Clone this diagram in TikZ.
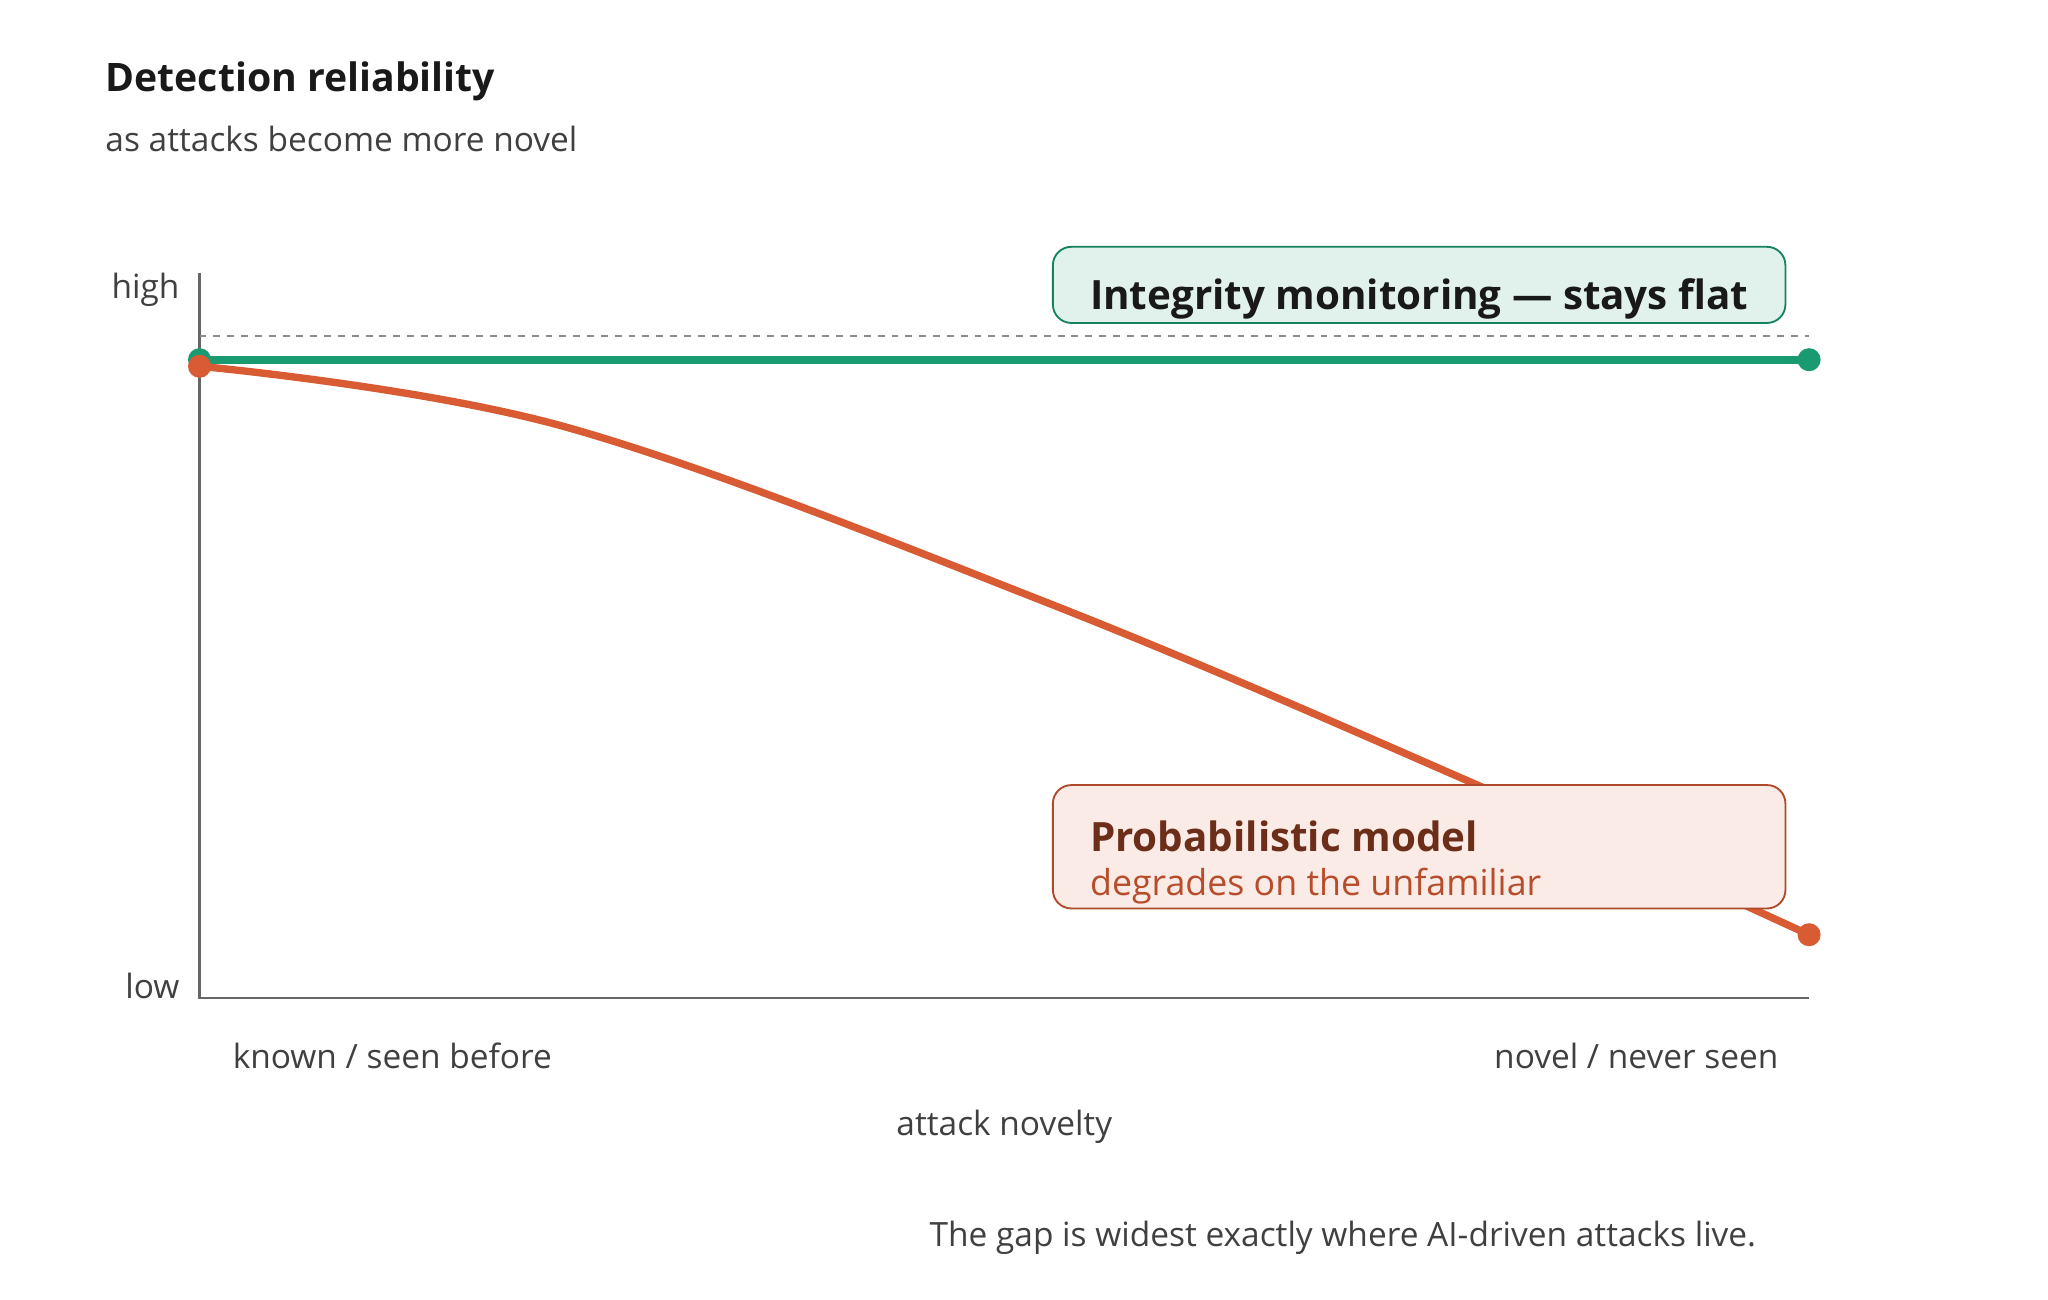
\documentclass[tikz,border=0pt]{standalone}
\usepackage{fontspec}
\setmainfont{Open Sans}
\begin{document}
\begin{tikzpicture}[x=0.02cm,y=-0.02cm,
  txt/.style={inner sep=0pt,text=black!75},
  axis/.style={draw=black!60,line width=1pt},
  dot/.style={circle,inner sep=0pt,minimum size=10pt}]
\definecolor{grn}{HTML}{1A9A70}
\definecolor{red1}{HTML}{D95B33}
\useasboundingbox (0,0) rectangle (1560,990);
\node[txt,anchor=west,text=black!90,font=\fontsize{17}{20}\selectfont\bfseries] (title) at (80,62) {Detection reliability};
\node[txt,anchor=west,font=\fontsize{14.5}{17}\selectfont] (sub) at (80,106) {as attacks become more novel};
\coordinate (o) at (152,760);
\coordinate (top) at (152,208);
\coordinate (xe) at (1378,760);
\draw[axis] (top) -- (o) -- (xe);
\node[txt,anchor=east,font=\fontsize{14.5}{17}\selectfont] (high) at (137,221) {high};
\node[txt,anchor=east,font=\fontsize{14.5}{17}\selectfont] (low) at (137,751) {low};
\coordinate (d1) at (152,256); \coordinate (d2) at (1378,256);
\draw[black!45,dashed,line width=0.6pt] (d1) -- (d2);
\node[dot,fill=grn] (g1) at (152,274) {};
\node[dot,fill=grn] (g2) at (1378,274) {};
\draw[grn,line width=3.4pt] (g1.center) -- (g2.center);
\draw[red1,line width=3.2pt] plot[smooth,tension=0.6] coordinates {(152,279) (430,325) (800,460) (1130,600) (1378,712)};
\node[dot,fill=red1] (r1) at (152,279) {};
\node[dot,fill=red1] (r2) at (1378,712) {};
\draw[draw=grn!85!black,fill=grn!13,rounded corners=8pt,line width=0.8pt] (802,188) rectangle (1360,246);
\node[txt,anchor=west,text=black!90,font=\fontsize{17.5}{20}\selectfont\bfseries] (gl) at (830,228) {Integrity monitoring — stays flat};
\draw[draw=red1!80!black,fill=red1!12,rounded corners=8pt,line width=0.8pt] (802,598) rectangle (1360,692);
\node[txt,anchor=west,text=red1!50!black,font=\fontsize{17.5}{20}\selectfont\bfseries] (rl) at (830,637) {Probabilistic model};
\node[txt,anchor=west,text=red1!85!black,font=\fontsize{15.5}{18}\selectfont] (rl2) at (830,675) {degrades on the unfamiliar};
\node[txt,anchor=west,font=\fontsize{14.5}{17}\selectfont] (kn) at (177,804) {known / seen before};
\node[txt,anchor=east,font=\fontsize{14.5}{17}\selectfont] (nv) at (1355,804) {novel / never seen};
\node[txt,font=\fontsize{14.5}{17}\selectfont] (an) at (765,858) {attack novelty};
\node[txt,anchor=east,font=\fontsize{14.5}{17}\selectfont] (ft) at (1338,943) {The gap is widest exactly where AI-driven attacks live.};
\end{tikzpicture}
\end{document}
